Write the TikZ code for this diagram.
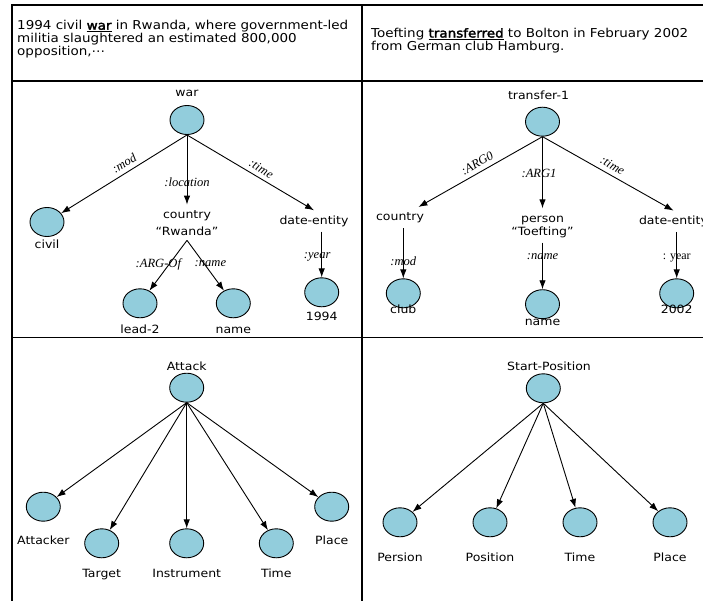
\documentclass[tikz,border=0pt]{standalone}
\usepackage{fontspec}
\setmainfont{DejaVu Sans}[FakeStretch=1.1]
\newfontfamily\heavy{DejaVu Sans}[FakeStretch=1.1,FakeBold=2.6]
\newfontfamily\relfont{Liberation Serif}
\usetikzlibrary{shapes.geometric,arrows.meta}
\definecolor{entblue}{RGB}{146,205,220}

\begin{document}
\begin{tikzpicture}[x=1bp,y=1bp,every node/.style={inner sep=1pt}]
\tikzstyle{arrow}=[draw,line width=0.9bp,-{Latex[length=9bp,width=6.5bp]}]
\tikzstyle{ent}=[draw,ellipse,fill=entblue,line width=0.9bp,minimum width=34bp,minimum height=29bp,inner sep=0pt]
\tikzstyle{word}=[anchor=base,font=\fontsize{11.4}{13}\selectfont]
\tikzstyle{mid}=[align=center,anchor=base,inner sep=5bp,text height=8.5bp,font=\fontsize{11.4}{13}\selectfont]
\tikzstyle{rel}=[font=\relfont\itshape\fontsize{12.6}{12.6}\selectfont]
\tikzstyle{grid}=[draw,line width=1.2bp]
\tikzstyle{sent}=[anchor=north west,align=left,font=\fontsize{12.3}{11.6}\selectfont]

\useasboundingbox (0,0) rectangle (703,-601);

% table
\path[grid] (12,-601) -- (12,-5) -- (703,-5);
\path[grid] (12,-81) -- (703,-81);
\path[grid] (12,-337.7) -- (703,-337.7);
\path[grid] (362,-5) -- (362,-601);

\node[sent](sent1) at (16,-19.2){1994 civil \underline{\heavy war} in Rwanda, where government-led\\militia slaughtered an estimated 800,000\\opposition,⋯};
\node[sent](sent2) at (370,-27){Toefting \underline{\heavy transferred} to Bolton in February 2002\\from German club Hamburg.};

% war
\node[ent](war) at (187,-120){};
\node[above of=war,node distance=23.3bp,word](warname){war};
\node[ent,below of=war,node distance=102bp,xshift=-140bp](civil){};
\node[below of=civil,node distance=26.3bp,word](civilname){civil};
\node[below of=war,node distance=115bp,mid,text height=25.2bp,font=\fontsize{11.4}{16.7}\selectfont](country){country\\“Rwanda”};
\node[below of=war,node distance=104bp,xshift=127bp,mid](dent){date-entity};
\node[ent,below of=war,node distance=183.3bp,xshift=-47bp](lead){};
\node[below of=lead,node distance=30bp,word](leadname){lead-2};
\node[ent,below of=war,node distance=183.3bp,xshift=46.3bp](rwname){};
\node[below of=rwname,node distance=30bp,word](rwnametxt){name};
\node[ent,below of=war,node distance=172.3bp,xshift=134.7bp](y1994){};
\node[below of=y1994,node distance=28.4bp,word](y1994txt){1994};

\path[arrow](war.south) -- node[rel,sloped,above,inner sep=4.5bp,pos=0.46]{:mod} (civil);
\path[arrow](war.south) -- node[rel,pos=0.68]{:location} (country.north);
\path[arrow](war.south) -- node[rel,sloped,above,inner sep=4bp,pos=0.55]{:time} (dent.north);
\path[arrow](country.south) -- node[rel,pos=0.47,xshift=-11bp]{:ARG-Of} (lead);
\path[arrow](country.south) -- node[rel,pos=0.47,xshift=6bp]{:name} (rwname);
\path[arrow](dent.south -| y1994.north) -- node[rel,pos=0.56,xshift=-4.5bp]{:year} (y1994);

% transfer-1
\node[ent](trans) at (542.5,-121.7){};
\node[above of=trans,node distance=22.4bp,xshift=-4bp,word](transname){transfer-1};
\node[below of=trans,node distance=99bp,xshift=-142.5bp,mid](tcountry){country};
\node[below of=trans,node distance=113.3bp,mid,text height=21.5bp](person){person\\“Toefting”};
\node[below of=trans,node distance=102.6bp,xshift=131bp,mid](tdent){date-entity};
\node[ent,below of=trans,node distance=171.6bp,xshift=-139.2bp](club){};
\node[below of=club,node distance=20bp,word](clubtxt){club};
\node[ent,below of=trans,node distance=182.5bp](tname){};
\node[below of=tname,node distance=21.5bp,word](tnametxt){name};
\node[ent,below of=trans,node distance=171.6bp,xshift=134.2bp](y2002){};
\node[below of=y2002,node distance=20bp,word](y2002txt){2002};

\path[arrow](trans.south) -- node[rel,sloped,above,inner sep=4.5bp,pos=0.49]{:ARG0} (tcountry.30);
\path[arrow](trans.south) -- node[rel,pos=0.52,xshift=-3.5bp]{:ARG1} (person.north);
\path[arrow](trans.south) -- node[rel,sloped,above,inner sep=4.5bp,pos=0.5]{:time} (tdent.north);
\path[arrow](tcountry.south -| club.north) -- node[rel,pos=0.65]{:mod} (club);
\path[arrow](person.south) -- node[rel,pos=0.3]{:name} (tname);
\path[arrow](tdent.south -| y2002.north) -- node[rel,pos=0.56,font=\relfont\fontsize{12}{12}\selectfont]{: year} (y2002);

% Attack
\node[ent](attack) at (186.7,-387.7){};
\node[above of=attack,node distance=17.7bp,word](attackname){Attack};
\node[ent,below of=attack,node distance=119bp,xshift=-143.4bp](attacker){};
\node[below of=attacker,node distance=37.3bp,word](attackertxt){Attacker};
\node[ent,below of=attack,node distance=155.6bp,xshift=-85bp](target){};
\node[below of=target,node distance=34bp,word](targettxt){Target};
\node[ent,below of=attack,node distance=155.6bp](instr){};
\node[below of=instr,node distance=34bp,word](instrtxt){Instrument};
\node[ent,below of=attack,node distance=155.6bp,xshift=89.6bp](atime){};
\node[below of=atime,node distance=34bp,word](atimetxt){Time};
\node[ent,below of=attack,node distance=119bp,xshift=145bp](aplace){};
\node[below of=aplace,node distance=37.3bp,word](aplacetxt){Place};

\foreach \n in {attacker,target,instr,atime,aplace}
  \path[arrow](attack.south) -- (\n);

% Start-Position
\node[ent](start) at (543.3,-388.3){};
\node[above of=start,node distance=18.3bp,xshift=5.7bp,word](startname){Start-Position};
\node[ent,below of=start,node distance=134bp,xshift=-143.3bp](persion){};
\node[below of=persion,node distance=39.4bp,word](persiontxt){Persion};
\node[ent,below of=start,node distance=134bp,xshift=-53.3bp](position){};
\node[below of=position,node distance=39.4bp,word](positiontxt){Position};
\node[ent,below of=start,node distance=134bp,xshift=36.7bp](stime){};
\node[below of=stime,node distance=39.4bp,word](stimetxt){Time};
\node[ent,below of=start,node distance=134bp,xshift=126.7bp](splace){};
\node[below of=splace,node distance=39.4bp,word](splacetxt){Place};

\foreach \n in {persion,position,stime,splace}
  \path[arrow](start.south) -- (\n);
\end{tikzpicture}
\end{document}
